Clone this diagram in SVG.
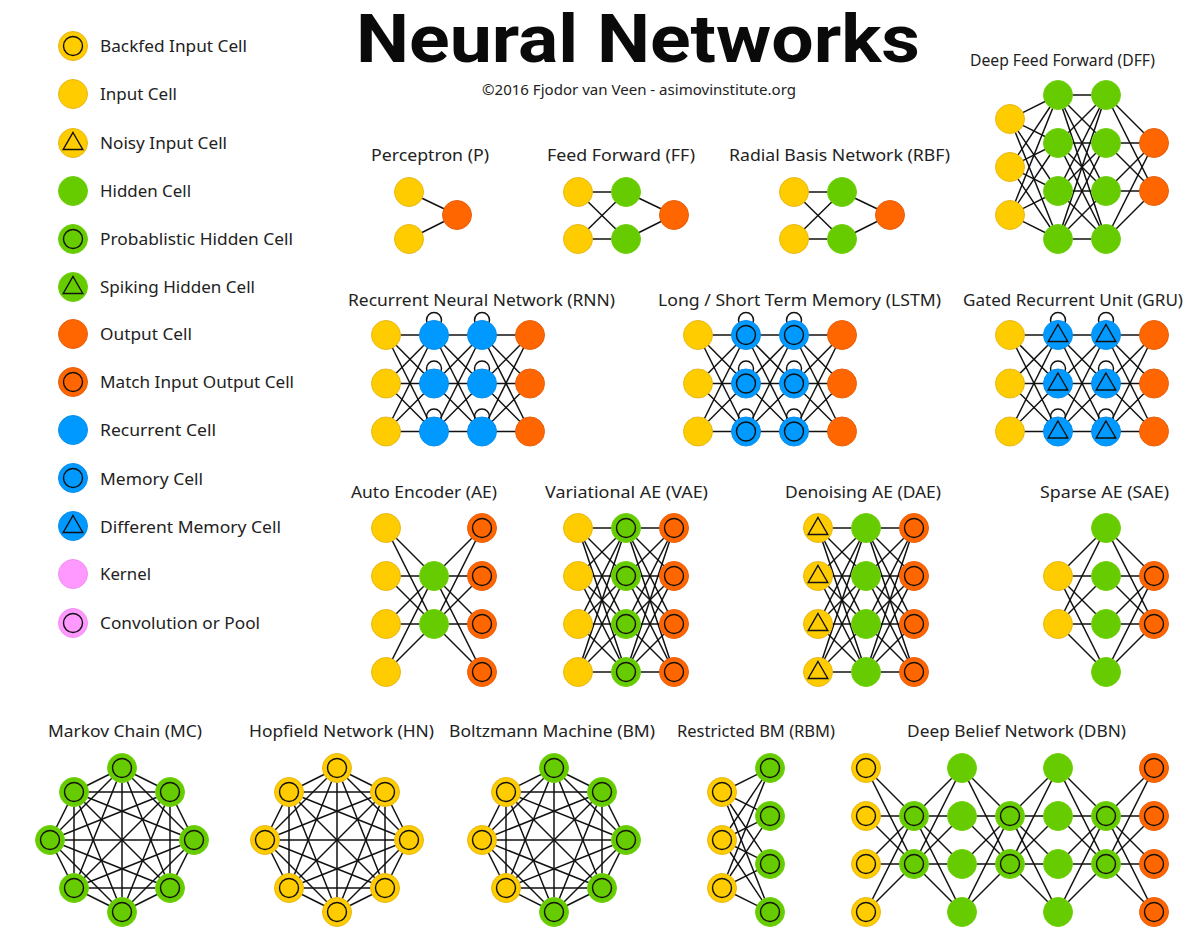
<svg xmlns="http://www.w3.org/2000/svg" width="1200" height="947" viewBox="0 0 1200 947">
<style>
text{font-family:"Noto Sans","Open Sans","Liberation Sans",sans-serif;fill:#222}
.h{font-size:17px}
.l{font-size:17px}
.t{font-family:Roboto,"Liberation Sans",sans-serif;font-size:67px;font-weight:700;fill:#0a0a0a}
.s{font-size:15px}
.e path,.e circle{stroke:#111;stroke-width:1.5;fill:none}
.y{fill:#FFCC00;stroke:#E8B818;stroke-width:1}
.g{fill:#66CC00;stroke:#70D010;stroke-width:1}
.o{fill:#FF6600;stroke:#E86010;stroke-width:1}
.b{fill:#0099FF;stroke:#0A90EE;stroke-width:1}
.k{fill:#FF99FF;stroke:#F090F0;stroke-width:1}
.m{fill:none;stroke:#111;stroke-width:1.4}
</style>
<defs>
<circle id="c" r="9.5" class="m"/>
<path id="d" d="M0-10.5 9.8 6.5H-9.8Z" class="m"/>
<g id="Y"><circle r="14.5" class="y"/></g>
<g id="Yc"><circle r="14.5" class="y"/><use href="#c"/></g>
<g id="Yt"><circle r="14.5" class="y"/><use href="#d"/></g>
<g id="G"><circle r="14.5" class="g"/></g>
<g id="Gc"><circle r="14.5" class="g"/><use href="#c"/></g>
<g id="Gt"><circle r="14.5" class="g"/><use href="#d"/></g>
<g id="O"><circle r="14.5" class="o"/></g>
<g id="Oc"><circle r="14.5" class="o"/><use href="#c"/></g>
<g id="B"><circle r="14.5" class="b"/></g>
<g id="Bc"><circle r="14.5" class="b"/><use href="#c"/></g>
<g id="Bt"><circle r="14.5" class="b"/><use href="#d"/></g>
<g id="K"><circle r="14.5" class="k"/></g>
<g id="Kc"><circle r="14.5" class="k"/><use href="#c"/></g>
<g id="rnn-links" class="e">
<path d="M386 335 434 335"/><path d="M386 335 434 383.5"/><path d="M386 335 434 431.5"/>
<path d="M386 383.5 434 335"/><path d="M386 383.5 434 383.5"/><path d="M386 383.5 434 431.5"/>
<path d="M386 431.5 434 335"/><path d="M386 431.5 434 383.5"/><path d="M386 431.5 434 431.5"/>
<path d="M434 335 482 335"/><path d="M434 335 482 383.5"/><path d="M434 335 482 431.5"/>
<path d="M434 383.5 482 335"/><path d="M434 383.5 482 383.5"/><path d="M434 383.5 482 431.5"/>
<path d="M434 431.5 482 335"/><path d="M434 431.5 482 383.5"/><path d="M434 431.5 482 431.5"/>
<path d="M482 335 530 335"/><path d="M482 335 530 383.5"/><path d="M482 335 530 431.5"/>
<path d="M482 383.5 530 335"/><path d="M482 383.5 530 383.5"/><path d="M482 383.5 530 431.5"/>
<path d="M482 431.5 530 335"/><path d="M482 431.5 530 383.5"/><path d="M482 431.5 530 431.5"/>
<circle cx="434" cy="320" r="7.5"/><circle cx="482" cy="320" r="7.5"/>
<circle cx="434" cy="368.5" r="7.5"/><circle cx="482" cy="368.5" r="7.5"/>
<circle cx="434" cy="416.5" r="7.5"/><circle cx="482" cy="416.5" r="7.5"/>
</g>
<g id="vae-links" class="e">
<path d="M578 528 626 528"/><path d="M578 528 626 576"/><path d="M578 528 626 624"/><path d="M578 528 626 672"/>
<path d="M578 576 626 528"/><path d="M578 576 626 576"/><path d="M578 576 626 624"/><path d="M578 576 626 672"/>
<path d="M578 624 626 528"/><path d="M578 624 626 576"/><path d="M578 624 626 624"/><path d="M578 624 626 672"/>
<path d="M578 672 626 528"/><path d="M578 672 626 576"/><path d="M578 672 626 624"/><path d="M578 672 626 672"/>
<path d="M626 528 674 528"/><path d="M626 528 674 576"/><path d="M626 528 674 624"/><path d="M626 528 674 672"/>
<path d="M626 576 674 528"/><path d="M626 576 674 576"/><path d="M626 576 674 624"/><path d="M626 576 674 672"/>
<path d="M626 624 674 528"/><path d="M626 624 674 576"/><path d="M626 624 674 624"/><path d="M626 624 674 672"/>
<path d="M626 672 674 528"/><path d="M626 672 674 576"/><path d="M626 672 674 624"/><path d="M626 672 674 672"/>
</g>
<g id="k8-links" class="e">
<path d="M122 768 170 792"/><path d="M122 768 194 840"/><path d="M122 768 170 888"/><path d="M122 768 122 912"/><path d="M122 768 74 888"/><path d="M122 768 50 840"/><path d="M122 768 74 792"/>
<path d="M170 792 194 840"/><path d="M170 792 170 888"/><path d="M170 792 122 912"/><path d="M170 792 74 888"/><path d="M170 792 50 840"/><path d="M170 792 74 792"/>
<path d="M194 840 170 888"/><path d="M194 840 122 912"/><path d="M194 840 74 888"/><path d="M194 840 50 840"/><path d="M194 840 74 792"/>
<path d="M170 888 122 912"/><path d="M170 888 74 888"/><path d="M170 888 50 840"/><path d="M170 888 74 792"/>
<path d="M122 912 74 888"/><path d="M122 912 50 840"/><path d="M122 912 74 792"/>
<path d="M74 888 50 840"/><path d="M74 888 74 792"/>
<path d="M50 840 74 792"/>
</g>
</defs>
<rect width="1200" height="947" fill="#fff"/>
<g id="connectors" class="e">
<g id="p-links"><path d="M409 192 457 215"/><path d="M409 239 457 215"/></g>
<g id="ff-links"><path d="M578 192 626 192"/><path d="M578 192 626 239"/><path d="M578 239 626 192"/><path d="M578 239 626 239"/><path d="M626 192 674 215"/><path d="M626 239 674 215"/></g>
<g id="rbf-links"><path d="M794 192 842 192"/><path d="M794 192 842 239"/><path d="M794 239 842 192"/><path d="M794 239 842 239"/><path d="M842 192 890 215"/><path d="M842 239 890 215"/></g>
<g id="dff-links">
<path d="M1010 119 1058 95"/><path d="M1010 119 1058 143"/><path d="M1010 119 1058 191"/><path d="M1010 119 1058 239"/>
<path d="M1010 167 1058 95"/><path d="M1010 167 1058 143"/><path d="M1010 167 1058 191"/><path d="M1010 167 1058 239"/>
<path d="M1010 215 1058 95"/><path d="M1010 215 1058 143"/><path d="M1010 215 1058 191"/><path d="M1010 215 1058 239"/>
<path d="M1058 95 1106 95"/><path d="M1058 95 1106 143"/><path d="M1058 95 1106 191"/><path d="M1058 95 1106 239"/>
<path d="M1058 143 1106 95"/><path d="M1058 143 1106 143"/><path d="M1058 143 1106 191"/><path d="M1058 143 1106 239"/>
<path d="M1058 191 1106 95"/><path d="M1058 191 1106 143"/><path d="M1058 191 1106 191"/><path d="M1058 191 1106 239"/>
<path d="M1058 239 1106 95"/><path d="M1058 239 1106 143"/><path d="M1058 239 1106 191"/><path d="M1058 239 1106 239"/>
<path d="M1106 95 1154 143"/><path d="M1106 95 1154 191"/><path d="M1106 143 1154 143"/><path d="M1106 143 1154 191"/>
<path d="M1106 191 1154 143"/><path d="M1106 191 1154 191"/><path d="M1106 239 1154 143"/><path d="M1106 239 1154 191"/>
</g>
<use href="#rnn-links"/>
<use href="#rnn-links" x="312"/>
<use href="#rnn-links" x="624"/>
<g id="ae-links">
<path d="M386 528 434 576"/><path d="M386 528 434 624"/><path d="M386 576 434 576"/><path d="M386 576 434 624"/>
<path d="M386 624 434 576"/><path d="M386 624 434 624"/><path d="M386 672 434 576"/><path d="M386 672 434 624"/>
<path d="M434 576 482 528"/><path d="M434 576 482 576"/><path d="M434 576 482 624"/><path d="M434 576 482 672"/>
<path d="M434 624 482 528"/><path d="M434 624 482 576"/><path d="M434 624 482 624"/><path d="M434 624 482 672"/>
</g>
<use href="#vae-links"/>
<use href="#vae-links" x="240"/>
<g id="sae-links">
<path d="M1058 576 1106 528"/><path d="M1058 576 1106 576"/><path d="M1058 576 1106 624"/><path d="M1058 576 1106 672"/>
<path d="M1058 624 1106 528"/><path d="M1058 624 1106 576"/><path d="M1058 624 1106 624"/><path d="M1058 624 1106 672"/>
<path d="M1106 528 1154 576"/><path d="M1106 528 1154 624"/><path d="M1106 576 1154 576"/><path d="M1106 576 1154 624"/>
<path d="M1106 624 1154 576"/><path d="M1106 624 1154 624"/><path d="M1106 672 1154 576"/><path d="M1106 672 1154 624"/>
</g>
<use href="#k8-links"/>
<use href="#k8-links" x="215"/>
<use href="#k8-links" x="432"/>
<g id="rbm-links">
<path d="M722 792 770 768"/><path d="M722 792 770 816"/><path d="M722 792 770 864"/><path d="M722 792 770 912"/>
<path d="M722 840 770 768"/><path d="M722 840 770 816"/><path d="M722 840 770 864"/><path d="M722 840 770 912"/>
<path d="M722 888 770 768"/><path d="M722 888 770 816"/><path d="M722 888 770 864"/><path d="M722 888 770 912"/>
</g>
<g id="dbn-links">
<path d="M866 768 914 816"/><path d="M866 768 914 864"/><path d="M866 816 914 816"/><path d="M866 816 914 864"/><path d="M866 864 914 816"/><path d="M866 864 914 864"/><path d="M866 912 914 816"/><path d="M866 912 914 864"/>
<path d="M914 816 962 768"/><path d="M914 816 962 816"/><path d="M914 816 962 864"/><path d="M914 816 962 912"/><path d="M914 864 962 768"/><path d="M914 864 962 816"/><path d="M914 864 962 864"/><path d="M914 864 962 912"/>
<path d="M962 768 1010 816"/><path d="M962 768 1010 864"/><path d="M962 816 1010 816"/><path d="M962 816 1010 864"/><path d="M962 864 1010 816"/><path d="M962 864 1010 864"/><path d="M962 912 1010 816"/><path d="M962 912 1010 864"/>
<path d="M1010 816 1058 768"/><path d="M1010 816 1058 816"/><path d="M1010 816 1058 864"/><path d="M1010 816 1058 912"/><path d="M1010 864 1058 768"/><path d="M1010 864 1058 816"/><path d="M1010 864 1058 864"/><path d="M1010 864 1058 912"/>
<path d="M1058 768 1106 816"/><path d="M1058 768 1106 864"/><path d="M1058 816 1106 816"/><path d="M1058 816 1106 864"/><path d="M1058 864 1106 816"/><path d="M1058 864 1106 864"/><path d="M1058 912 1106 816"/><path d="M1058 912 1106 864"/>
<path d="M1106 816 1154 768"/><path d="M1106 816 1154 816"/><path d="M1106 816 1154 864"/><path d="M1106 816 1154 912"/><path d="M1106 864 1154 768"/><path d="M1106 864 1154 816"/><path d="M1106 864 1154 864"/><path d="M1106 864 1154 912"/>
</g>
</g>
<g id="labels">
<text class="t" x="356" y="62" textLength="564" lengthAdjust="spacingAndGlyphs">Neural Networks</text>
<text class="s" x="482" y="95" textLength="314" lengthAdjust="spacingAndGlyphs">©2016 Fjodor van Veen - asimovinstitute.org</text>
<text class="h" x="970" y="66" textLength="185" lengthAdjust="spacingAndGlyphs">Deep Feed Forward (DFF)</text>
<text class="h" x="371" y="161" textLength="118" lengthAdjust="spacingAndGlyphs">Perceptron (P)</text>
<text class="h" x="547" y="161" textLength="148" lengthAdjust="spacingAndGlyphs">Feed Forward (FF)</text>
<text class="h" x="729" y="161" textLength="221" lengthAdjust="spacingAndGlyphs">Radial Basis Network (RBF)</text>
<text class="h" x="348" y="306" textLength="267" lengthAdjust="spacingAndGlyphs">Recurrent Neural Network (RNN)</text>
<text class="h" x="658" y="306" textLength="283" lengthAdjust="spacingAndGlyphs">Long / Short Term Memory (LSTM)</text>
<text class="h" x="963" y="306" textLength="220" lengthAdjust="spacingAndGlyphs">Gated Recurrent Unit (GRU)</text>
<text class="h" x="351" y="498" textLength="146" lengthAdjust="spacingAndGlyphs">Auto Encoder (AE)</text>
<text class="h" x="545" y="498" textLength="163" lengthAdjust="spacingAndGlyphs">Variational AE (VAE)</text>
<text class="h" x="785" y="498" textLength="156" lengthAdjust="spacingAndGlyphs">Denoising AE (DAE)</text>
<text class="h" x="1040" y="498" textLength="129" lengthAdjust="spacingAndGlyphs">Sparse AE (SAE)</text>
<text class="h" x="48" y="737" textLength="154" lengthAdjust="spacingAndGlyphs">Markov Chain (MC)</text>
<text class="h" x="249" y="737" textLength="185" lengthAdjust="spacingAndGlyphs">Hopfield Network (HN)</text>
<text class="h" x="449" y="737" textLength="206" lengthAdjust="spacingAndGlyphs">Boltzmann Machine (BM)</text>
<text class="h" x="677" y="737" textLength="158" lengthAdjust="spacingAndGlyphs">Restricted BM (RBM)</text>
<text class="h" x="907" y="737" textLength="219" lengthAdjust="spacingAndGlyphs">Deep Belief Network (DBN)</text>
</g>
<g id="legend">
<g id="leg-backfed"><use href="#Yc" x="73" y="46"/><text class="l" x="100" y="52" textLength="147" lengthAdjust="spacingAndGlyphs">Backfed Input Cell</text></g>
<g id="leg-input"><use href="#Y" x="73" y="94"/><text class="l" x="100" y="100" textLength="77" lengthAdjust="spacingAndGlyphs">Input Cell</text></g>
<g id="leg-noisy"><use href="#Yt" x="73" y="143"/><text class="l" x="100" y="149" textLength="127" lengthAdjust="spacingAndGlyphs">Noisy Input Cell</text></g>
<g id="leg-hidden"><use href="#G" x="73" y="191"/><text class="l" x="100" y="197" textLength="91" lengthAdjust="spacingAndGlyphs">Hidden Cell</text></g>
<g id="leg-prob"><use href="#Gc" x="73" y="239"/><text class="l" x="100" y="245" textLength="193" lengthAdjust="spacingAndGlyphs">Probablistic Hidden Cell</text></g>
<g id="leg-spiking"><use href="#Gt" x="73" y="287"/><text class="l" x="100" y="293" textLength="155" lengthAdjust="spacingAndGlyphs">Spiking Hidden Cell</text></g>
<g id="leg-output"><use href="#O" x="73" y="334"/><text class="l" x="100" y="340" textLength="92" lengthAdjust="spacingAndGlyphs">Output Cell</text></g>
<g id="leg-match"><use href="#Oc" x="73" y="382"/><text class="l" x="100" y="388" textLength="194" lengthAdjust="spacingAndGlyphs">Match Input Output Cell</text></g>
<g id="leg-recurrent"><use href="#B" x="73" y="430"/><text class="l" x="100" y="436" textLength="116" lengthAdjust="spacingAndGlyphs">Recurrent Cell</text></g>
<g id="leg-memory"><use href="#Bc" x="73" y="478"/><text class="l" x="100" y="485" textLength="103" lengthAdjust="spacingAndGlyphs">Memory Cell</text></g>
<g id="leg-different"><use href="#Bt" x="73" y="526"/><text class="l" x="100" y="533" textLength="181" lengthAdjust="spacingAndGlyphs">Different Memory Cell</text></g>
<g id="leg-kernel"><use href="#K" x="73" y="574"/><text class="l" x="100" y="580" textLength="51" lengthAdjust="spacingAndGlyphs">Kernel</text></g>
<g id="leg-conv"><use href="#Kc" x="73" y="623"/><text class="l" x="100" y="629" textLength="160" lengthAdjust="spacingAndGlyphs">Convolution or Pool</text></g>
</g>
<g id="nodes">
<g id="p-i1"><use href="#Y" x="409" y="192"/></g><g id="p-i2"><use href="#Y" x="409" y="239"/></g><g id="p-o1"><use href="#O" x="457" y="215"/></g>
<g id="ff-i1"><use href="#Y" x="578" y="192"/></g><g id="ff-i2"><use href="#Y" x="578" y="239"/></g><g id="ff-h1"><use href="#G" x="626" y="192"/></g><g id="ff-h2"><use href="#G" x="626" y="239"/></g><g id="ff-o1"><use href="#O" x="674" y="215"/></g>
<g id="rbf-i1"><use href="#Y" x="794" y="192"/></g><g id="rbf-i2"><use href="#Y" x="794" y="239"/></g><g id="rbf-h1"><use href="#G" x="842" y="192"/></g><g id="rbf-h2"><use href="#G" x="842" y="239"/></g><g id="rbf-o1"><use href="#O" x="890" y="215"/></g>
<g id="dff-i1"><use href="#Y" x="1010" y="119"/></g><g id="dff-i2"><use href="#Y" x="1010" y="167"/></g><g id="dff-i3"><use href="#Y" x="1010" y="215"/></g>
<g id="dff-a1"><use href="#G" x="1058" y="95"/></g><g id="dff-a2"><use href="#G" x="1058" y="143"/></g><g id="dff-a3"><use href="#G" x="1058" y="191"/></g><g id="dff-a4"><use href="#G" x="1058" y="239"/></g>
<g id="dff-b1"><use href="#G" x="1106" y="95"/></g><g id="dff-b2"><use href="#G" x="1106" y="143"/></g><g id="dff-b3"><use href="#G" x="1106" y="191"/></g><g id="dff-b4"><use href="#G" x="1106" y="239"/></g>
<g id="dff-o1"><use href="#O" x="1154" y="143"/></g><g id="dff-o2"><use href="#O" x="1154" y="191"/></g>
<g id="rnn-i1"><use href="#Y" x="386" y="335"/></g><g id="rnn-i2"><use href="#Y" x="386" y="383.5"/></g><g id="rnn-i3"><use href="#Y" x="386" y="431.5"/></g>
<g id="rnn-a1"><use href="#B" x="434" y="335"/></g><g id="rnn-a2"><use href="#B" x="434" y="383.5"/></g><g id="rnn-a3"><use href="#B" x="434" y="431.5"/></g>
<g id="rnn-b1"><use href="#B" x="482" y="335"/></g><g id="rnn-b2"><use href="#B" x="482" y="383.5"/></g><g id="rnn-b3"><use href="#B" x="482" y="431.5"/></g>
<g id="rnn-o1"><use href="#O" x="530" y="335"/></g><g id="rnn-o2"><use href="#O" x="530" y="383.5"/></g><g id="rnn-o3"><use href="#O" x="530" y="431.5"/></g>
<g id="lstm-i1"><use href="#Y" x="698" y="335"/></g><g id="lstm-i2"><use href="#Y" x="698" y="383.5"/></g><g id="lstm-i3"><use href="#Y" x="698" y="431.5"/></g>
<g id="lstm-a1"><use href="#Bc" x="746" y="335"/></g><g id="lstm-a2"><use href="#Bc" x="746" y="383.5"/></g><g id="lstm-a3"><use href="#Bc" x="746" y="431.5"/></g>
<g id="lstm-b1"><use href="#Bc" x="794" y="335"/></g><g id="lstm-b2"><use href="#Bc" x="794" y="383.5"/></g><g id="lstm-b3"><use href="#Bc" x="794" y="431.5"/></g>
<g id="lstm-o1"><use href="#O" x="842" y="335"/></g><g id="lstm-o2"><use href="#O" x="842" y="383.5"/></g><g id="lstm-o3"><use href="#O" x="842" y="431.5"/></g>
<g id="gru-i1"><use href="#Y" x="1010" y="335"/></g><g id="gru-i2"><use href="#Y" x="1010" y="383.5"/></g><g id="gru-i3"><use href="#Y" x="1010" y="431.5"/></g>
<g id="gru-a1"><use href="#Bt" x="1058" y="335"/></g><g id="gru-a2"><use href="#Bt" x="1058" y="383.5"/></g><g id="gru-a3"><use href="#Bt" x="1058" y="431.5"/></g>
<g id="gru-b1"><use href="#Bt" x="1106" y="335"/></g><g id="gru-b2"><use href="#Bt" x="1106" y="383.5"/></g><g id="gru-b3"><use href="#Bt" x="1106" y="431.5"/></g>
<g id="gru-o1"><use href="#O" x="1154" y="335"/></g><g id="gru-o2"><use href="#O" x="1154" y="383.5"/></g><g id="gru-o3"><use href="#O" x="1154" y="431.5"/></g>
<g id="ae-i1"><use href="#Y" x="386" y="528"/></g><g id="ae-i2"><use href="#Y" x="386" y="576"/></g><g id="ae-i3"><use href="#Y" x="386" y="624"/></g><g id="ae-i4"><use href="#Y" x="386" y="672"/></g>
<g id="ae-h1"><use href="#G" x="434" y="576"/></g><g id="ae-h2"><use href="#G" x="434" y="624"/></g>
<g id="ae-o1"><use href="#Oc" x="482" y="528"/></g><g id="ae-o2"><use href="#Oc" x="482" y="576"/></g><g id="ae-o3"><use href="#Oc" x="482" y="624"/></g><g id="ae-o4"><use href="#Oc" x="482" y="672"/></g>
<g id="vae-i1"><use href="#Y" x="578" y="528"/></g><g id="vae-i2"><use href="#Y" x="578" y="576"/></g><g id="vae-i3"><use href="#Y" x="578" y="624"/></g><g id="vae-i4"><use href="#Y" x="578" y="672"/></g>
<g id="vae-h1"><use href="#Gc" x="626" y="528"/></g><g id="vae-h2"><use href="#Gc" x="626" y="576"/></g><g id="vae-h3"><use href="#Gc" x="626" y="624"/></g><g id="vae-h4"><use href="#Gc" x="626" y="672"/></g>
<g id="vae-o1"><use href="#Oc" x="674" y="528"/></g><g id="vae-o2"><use href="#Oc" x="674" y="576"/></g><g id="vae-o3"><use href="#Oc" x="674" y="624"/></g><g id="vae-o4"><use href="#Oc" x="674" y="672"/></g>
<g id="dae-i1"><use href="#Yt" x="818" y="528"/></g><g id="dae-i2"><use href="#Yt" x="818" y="576"/></g><g id="dae-i3"><use href="#Yt" x="818" y="624"/></g><g id="dae-i4"><use href="#Yt" x="818" y="672"/></g>
<g id="dae-h1"><use href="#G" x="866" y="528"/></g><g id="dae-h2"><use href="#G" x="866" y="576"/></g><g id="dae-h3"><use href="#G" x="866" y="624"/></g><g id="dae-h4"><use href="#G" x="866" y="672"/></g>
<g id="dae-o1"><use href="#Oc" x="914" y="528"/></g><g id="dae-o2"><use href="#Oc" x="914" y="576"/></g><g id="dae-o3"><use href="#Oc" x="914" y="624"/></g><g id="dae-o4"><use href="#Oc" x="914" y="672"/></g>
<g id="sae-i1"><use href="#Y" x="1058" y="576"/></g><g id="sae-i2"><use href="#Y" x="1058" y="624"/></g>
<g id="sae-h1"><use href="#G" x="1106" y="528"/></g><g id="sae-h2"><use href="#G" x="1106" y="576"/></g><g id="sae-h3"><use href="#G" x="1106" y="624"/></g><g id="sae-h4"><use href="#G" x="1106" y="672"/></g>
<g id="sae-o1"><use href="#Oc" x="1154" y="576"/></g><g id="sae-o2"><use href="#Oc" x="1154" y="624"/></g>
<g id="mc-1"><use href="#Gc" x="122" y="768"/></g><g id="mc-2"><use href="#Gc" x="170" y="792"/></g><g id="mc-3"><use href="#Gc" x="194" y="840"/></g><g id="mc-4"><use href="#Gc" x="170" y="888"/></g><g id="mc-5"><use href="#Gc" x="122" y="912"/></g><g id="mc-6"><use href="#Gc" x="74" y="888"/></g><g id="mc-7"><use href="#Gc" x="50" y="840"/></g><g id="mc-8"><use href="#Gc" x="74" y="792"/></g>
<g id="hn-1"><use href="#Yc" x="337" y="768"/></g><g id="hn-2"><use href="#Yc" x="385" y="792"/></g><g id="hn-3"><use href="#Yc" x="409" y="840"/></g><g id="hn-4"><use href="#Yc" x="385" y="888"/></g><g id="hn-5"><use href="#Yc" x="337" y="912"/></g><g id="hn-6"><use href="#Yc" x="289" y="888"/></g><g id="hn-7"><use href="#Yc" x="265" y="840"/></g><g id="hn-8"><use href="#Yc" x="289" y="792"/></g>
<g id="bm-1"><use href="#Gc" x="554" y="768"/></g><g id="bm-2"><use href="#Gc" x="602" y="792"/></g><g id="bm-3"><use href="#Gc" x="626" y="840"/></g><g id="bm-4"><use href="#Gc" x="602" y="888"/></g><g id="bm-5"><use href="#Gc" x="554" y="912"/></g><g id="bm-6"><use href="#Yc" x="506" y="888"/></g><g id="bm-7"><use href="#Yc" x="482" y="840"/></g><g id="bm-8"><use href="#Yc" x="506" y="792"/></g>
<g id="rbm-v1"><use href="#Yc" x="722" y="792"/></g><g id="rbm-v2"><use href="#Yc" x="722" y="840"/></g><g id="rbm-v3"><use href="#Yc" x="722" y="888"/></g>
<g id="rbm-h1"><use href="#Gc" x="770" y="768"/></g><g id="rbm-h2"><use href="#Gc" x="770" y="816"/></g><g id="rbm-h3"><use href="#Gc" x="770" y="864"/></g><g id="rbm-h4"><use href="#Gc" x="770" y="912"/></g>
<g id="dbn-i1"><use href="#Yc" x="866" y="768"/></g><g id="dbn-i2"><use href="#Yc" x="866" y="816"/></g><g id="dbn-i3"><use href="#Yc" x="866" y="864"/></g><g id="dbn-i4"><use href="#Yc" x="866" y="912"/></g>
<g id="dbn-a1"><use href="#Gc" x="914" y="816"/></g><g id="dbn-a2"><use href="#Gc" x="914" y="864"/></g>
<g id="dbn-b1"><use href="#G" x="962" y="768"/></g><g id="dbn-b2"><use href="#G" x="962" y="816"/></g><g id="dbn-b3"><use href="#G" x="962" y="864"/></g><g id="dbn-b4"><use href="#G" x="962" y="912"/></g>
<g id="dbn-c1"><use href="#Gc" x="1010" y="816"/></g><g id="dbn-c2"><use href="#Gc" x="1010" y="864"/></g>
<g id="dbn-d1"><use href="#G" x="1058" y="768"/></g><g id="dbn-d2"><use href="#G" x="1058" y="816"/></g><g id="dbn-d3"><use href="#G" x="1058" y="864"/></g><g id="dbn-d4"><use href="#G" x="1058" y="912"/></g>
<g id="dbn-e1"><use href="#Gc" x="1106" y="816"/></g><g id="dbn-e2"><use href="#Gc" x="1106" y="864"/></g>
<g id="dbn-o1"><use href="#Oc" x="1154" y="768"/></g><g id="dbn-o2"><use href="#Oc" x="1154" y="816"/></g><g id="dbn-o3"><use href="#Oc" x="1154" y="864"/></g><g id="dbn-o4"><use href="#Oc" x="1154" y="912"/></g>
</g>
</svg>
